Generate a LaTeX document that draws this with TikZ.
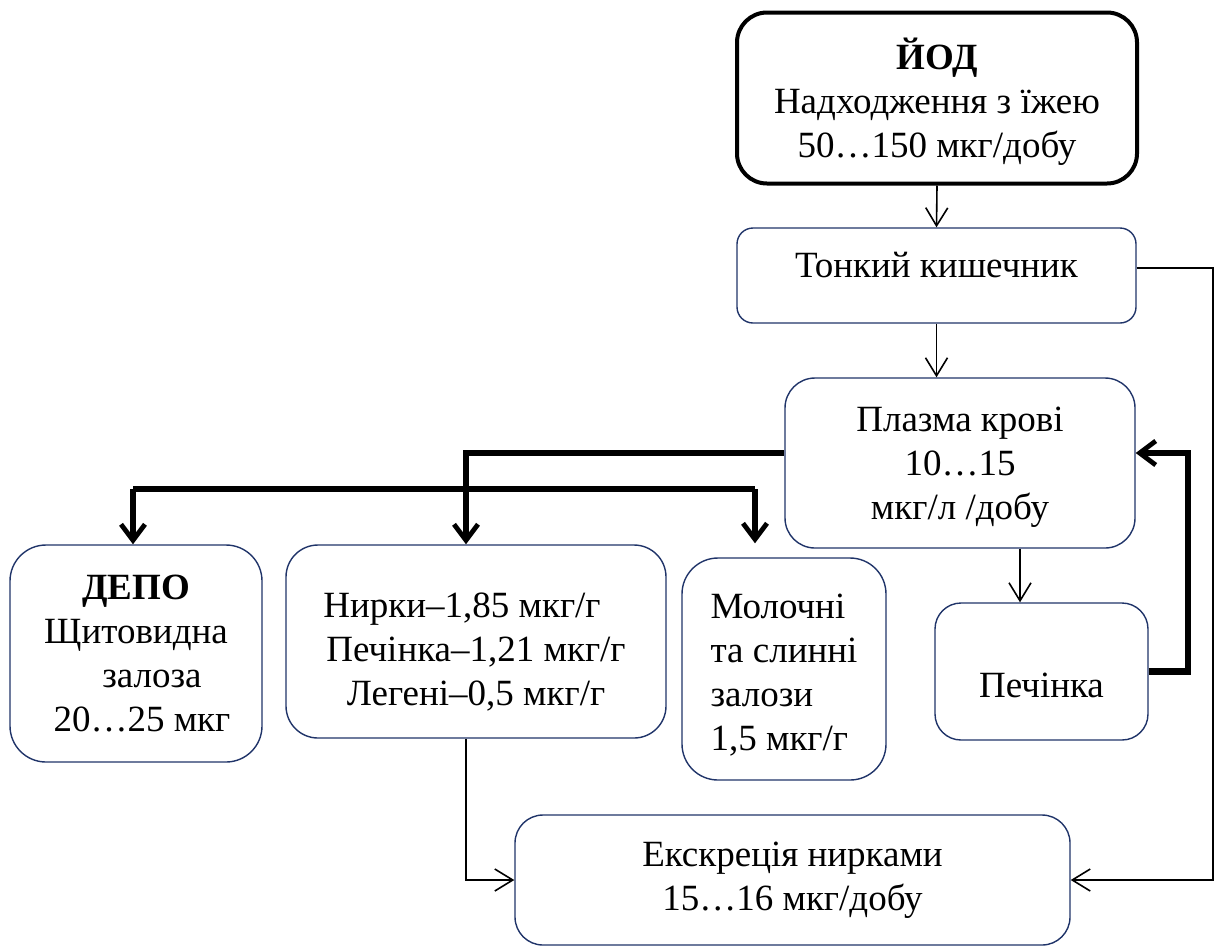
\documentclass[tikz,border=0pt]{standalone}
\usepackage{fontspec}
\setmainfont{Liberation Serif}
\usepackage{xcolor}
\usetikzlibrary{arrows.meta}
\definecolor{boxblue}{RGB}{32,52,105}

\begin{document}
\begin{tikzpicture}[x=0.5pt,y=-0.5pt,
        font=\fontsize{18.5}{22}\selectfont,
        box/.style={draw=boxblue,line width=0.7pt,rounded corners=#1,align=center,inner sep=0pt},
        box/.default=14pt,
        thinarr/.style={line width=0.8pt,-{Straight Barb[length=9pt,width=11pt]}},
        thickline/.style={line width=3.2pt},
        thickarr/.style={line width=3.2pt,-{Straight Barb[length=8pt,width=12pt,line width=2.4pt]}}]
    \useasboundingbox (0,0) rectangle (1214,949);
        \node (iod) [box=15pt,draw=black,line width=2pt,minimum width=200pt,minimum height=85.5pt] at (937,98)
            {\rule{0pt}{19pt}\textbf{ЙОД}\\Надходження з їжею\\ 50…150 мкг/добу};
        \node (tonk) [box=8pt,minimum width=199.5pt,minimum height=47.5pt] at (936.5,275.5)
            {Тонкий кишечник\rule[-11pt]{0pt}{11pt}};
        \node (plasma) [box=15pt,minimum width=175pt,minimum height=85pt] at (960,463)
            {\rule{0pt}{16.5pt}Плазма крові\\10…15\\мкг/л /добу};
        \node (depo) [box=18pt,minimum width=126pt,minimum height=108.5pt] at (136,653.5)
            {\textbf{ДЕПО}\\Щитовидна\\\hspace*{16pt}залоза\\\hspace*{6pt}20…25 мкг};
        \node (nirky) [box=16pt,minimum width=190pt,minimum height=96.5pt] at (476,641.5)
            {\rule{0pt}{22.5pt}Нирки–1,85 мкг/г\hspace*{14pt}\\Печінка–1,21 мкг/г\\Легені–0,5 мкг/г};
        \node (moloch) [box=18pt,align=left,minimum width=102pt,minimum height=111pt] at (784,669)
            {\rule{0pt}{18.5pt}Молочні\\та слинні\\залози\\1,5 мкг/г};
        \node (pech) [box=13pt,minimum width=106.5pt,minimum height=68.5pt] at (1041.5,671.5)
            {\rule{0pt}{26pt}Печінка};
        \node (eks) [box=14pt,minimum width=277.5pt,minimum height=65pt] at (792.5,880)
            {Екскреція нирками\\15…16 мкг/добу};
        \coordinate (rline) at (1213,268);
        \coordinate (bus1) at (466,453);
        \coordinate (busL) at (133,489);
        \coordinate (busR) at (755,489);
        \coordinate (fb) at (1188,453);
        \draw[thinarr] (iod.south) -- (tonk.north);
        \draw[thinarr] (tonk.south) -- (tonk.south |- plasma.north);
        \draw[thinarr] (tonk.east |- rline) -- (rline) |- (eks.east);
        \draw[thickarr] (plasma.west |- bus1) -- (bus1) -- (bus1 |- nirky.north);
        \draw[thickline] (busL) -- (busR);
        \draw[thickarr] (busL) -- (busL |- depo.north);
        \draw[thickarr,shorten >=7pt] (busR) -- (busR |- moloch.north);
        \draw[thinarr] ([xshift=30pt]plasma.south) -- ([xshift=30pt]plasma.south |- pech.north);
        \draw[thickarr] (pech.east) -| (fb) -- (plasma.east |- fb);
        \draw[thinarr] (bus1 |- nirky.south) |- (eks.west);
    \end{tikzpicture}
\end{document}
